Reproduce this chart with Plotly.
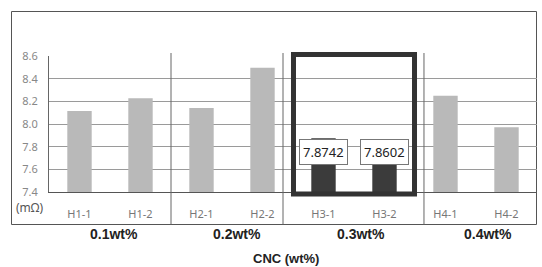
import plotly.graph_objects as go

# ---- data ----
samples = ["H1-1", "H1-2", "H2-1", "H2-2", "H3-1", "H3-2", "H4-1", "H4-2"]
resistance = [8.115, 8.227, 8.141, 8.497, 7.8742, 7.8602, 8.250, 7.971]
highlight = [False, False, False, False, True, True, False, False]
groups = ["0.1wt%", "0.2wt%", "0.3wt%", "0.4wt%"]
group_label_pos = [0.566, 2.58, 4.61, 6.70]
separator_pos = [1.5, 3.336, 5.647]
y_ticks = [7.4, 7.6, 7.8, 8.0, 8.2, 8.4, 8.6]
x_title = "CNC (wt%)"
y_unit = "(mΩ)"

LIGHT = "#b9b9b9"
DARK = "#3b3b3b"
colors = [DARK if h else LIGHT for h in highlight]

fig = go.Figure()
fig.add_trace(go.Bar(
    x=samples, y=[v - 7.4 for v in resistance], base=7.4,
    marker=dict(color=colors, line=dict(width=0)),
    width=0.4, hoverinfo="skip",
))

W, H = 542, 267
L, R, T, B = 49, 5, 56, 75
pw, ph = W - L - R, H - T - B

def px_to_paper_x(px):
    return (px - L) / pw

def px_to_paper_y(py):
    return (H - B - py) / ph

shapes = []
# outer frame
shapes.append(dict(type="rect", xref="paper", yref="paper",
                   x0=px_to_paper_x(11.5), x1=px_to_paper_x(536.5),
                   y0=px_to_paper_y(224.5), y1=px_to_paper_y(11.5),
                   line=dict(color="#555", width=1), layer="below"))
# group separators
for s in separator_pos:
    shapes.append(dict(type="line", xref="x", yref="paper",
                       x0=s, x1=s, y0=px_to_paper_y(224.5), y1=px_to_paper_y(53),
                       line=dict(color="#666", width=1)))
# highlight box
shapes.append(dict(type="rect", xref="x", yref="paper",
                   x0=3.508, x1=5.492,
                   y0=px_to_paper_y(194), y1=px_to_paper_y(54.5),
                   line=dict(color="#333", width=5)))

annotations = []
# value labels for highlighted bars
for s, v, h in zip(samples, resistance, highlight):
    if h:
        annotations.append(dict(x=s, y=7.753, xref="x", yref="y",
                                xanchor="center", yanchor="middle",
                                text=f"{v:.4f}", showarrow=False,
                                font=dict(family="Noto Sans", size=13, color="#222"),
                                bgcolor="white", bordercolor="#777", borderwidth=1,
                                borderpad=3))
# group labels
for g, p in zip(groups, group_label_pos):
    annotations.append(dict(x=p, y=px_to_paper_y(234), xref="x", yref="paper",
                            xanchor="center", yanchor="middle",
                            text=f"<b>{g}</b>", showarrow=False,
                            font=dict(family="Liberation Sans", size=14, color="#222")))
# axis title
annotations.append(dict(x=px_to_paper_x(286), y=px_to_paper_y(258), xref="paper", yref="paper",
                        xanchor="center", yanchor="middle",
                        text=f"<b>{x_title}</b>", showarrow=False,
                        font=dict(family="Liberation Sans", size=13, color="#222")))
# unit
annotations.append(dict(x=px_to_paper_x(29), y=px_to_paper_y(207), xref="paper", yref="paper",
                        xanchor="center", yanchor="middle",
                        text=y_unit, showarrow=False,
                        font=dict(family="Noto Sans", size=12, color="#555")))

fig.update_layout(
    width=W, height=H,
    margin=dict(l=L, r=R, t=T, b=B),
    paper_bgcolor="white", plot_bgcolor="white",
    showlegend=False,
    shapes=shapes, annotations=annotations,
    xaxis=dict(type="category", range=[-0.5, 7.5], showgrid=False,
               showline=True, linecolor="#555", linewidth=1, mirror=False,
               ticks="outside", ticklen=0, ticklabelstandoff=12,
               tickfont=dict(family="Noto Sans", size=11, color="#777"),
               fixedrange=True, automargin=False),
    yaxis=dict(range=[7.4, 8.6], tickvals=y_ticks,
               ticktext=[f"{t:.1f}" for t in y_ticks],
               showgrid=True, gridcolor="#9a9a9a", gridwidth=1,
               showline=True, linecolor="#666", linewidth=1,
               zeroline=False, ticks="", ticklabelstandoff=8,
               tickfont=dict(family="Noto Sans", size=11, color="#888"),
               fixedrange=True, automargin=False),
)

fig.write_html("out.html", config={"displayModeBar": False},
               post_script="document.body.style.margin='0';")
